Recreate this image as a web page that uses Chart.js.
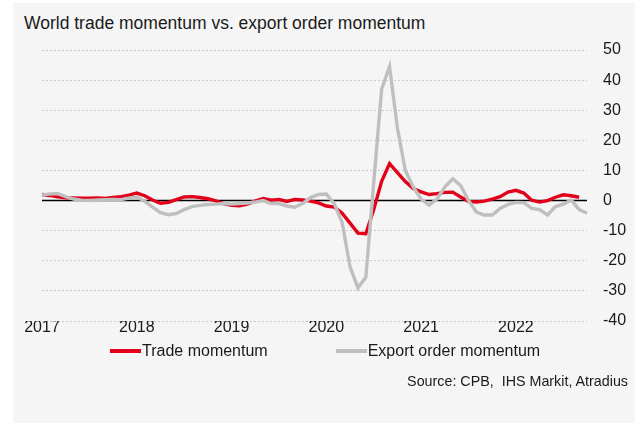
<!DOCTYPE html>
<html>
<head>
<meta charset="utf-8">
<script src="https://cdn.jsdelivr.net/npm/chart.js@4.4.1/dist/chart.umd.min.js"></script>
<style>
  body { margin: 0; background: #ffffff; font-family: "Liberation Sans", Arial, sans-serif; }
  #wrap { position: relative; width: 635px; height: 423px; overflow: hidden; }
  #bg { position: absolute; left: 13px; top: 3px; right: 0; bottom: 0; background: #f5f5f5; }
  #chart { position: absolute; left: 0; top: 0; }
  #title { position: absolute; left: 24px; top: 14.5px; font-size: 17.5px; line-height: 1; color: #1a1a1a; white-space: nowrap; }
  #legend { position: absolute; left: 110px; top: 343px; display: flex; align-items: center; font-size: 16px; line-height: 1; color: #1a1a1a; }
  #legend .item { display: flex; align-items: center; margin-right: 68px; }
  #legend .swatch { width: 31px; height: 4px; margin-right: 1px; }
  #source { position: absolute; right: 7px; top: 374px; font-size: 14.3px; line-height: 1; color: #1a1a1a; white-space: nowrap; }
</style>
</head>
<body>
<div id="wrap">
  <div id="bg"></div>
  <div id="title">World trade momentum vs. export order momentum</div>
  <canvas id="chart" width="635" height="423"></canvas>
  <div id="legend"></div>
  <div id="source">Source: CPB,&nbsp; IHS Markit, Atradius</div>
</div>
<script>
// monthly data, Jan 2017 - Oct 2022
const years = ['2017', '2018', '2019', '2020', '2021', '2022'];
const months = years
  .flatMap(y => Array.from({ length: 12 }, (_, m) => y + '-' + String(m + 1).padStart(2, '0')))
  .slice(0, 70);

const tradeMomentum = [
  2.0, 1.7, 1.2, 0.9, 0.9, 0.8, 0.8, 0.9, 0.7, 1.0, 1.3, 1.8,
  2.5, 1.6, 0.2, -0.9, -0.6, 0.3, 1.2, 1.3, 1.0, 0.6, -0.1, -1.0,
  -1.6, -1.7, -1.2, -0.2, 0.7, 0.1, 0.4, -0.3, 0.4, 0.2, -0.2, -0.8,
  -1.8, -2.2, -4.2, -7.5, -10.8, -11.0, -3.0, 6.4, 12.3, 9.3, 6.3, 4.0,
  2.9, 2.0, 2.3, 2.7, 2.8, 1.2, -0.3, -0.5, -0.2, 0.5, 1.3, 2.8,
  3.4, 2.5, 0.1, -0.5, 0.0, 1.1, 1.9, 1.6, 1.1, null
];

const exportOrderMomentum = [
  1.8, 2.2, 2.3, 1.3, 0.5, 0.1, 0.0, 0.2, 0.3, 0.4, 0.3, 0.8,
  1.2, -0.2, -2.2, -4.0, -4.7, -4.3, -3.0, -2.0, -1.6, -1.3, -1.2, -1.0,
  -1.2, -1.0, -0.8, -0.5, 0.0, -1.0, -1.0, -1.8, -2.2, -1.0, 1.0, 2.0,
  2.2, -1.0, -7.3, -22.0, -29.0, -25.5, 6.0, 37.0, 44.5, 24.0, 10.0, 4.5,
  0.5, -1.5, 0.5, 4.5, 7.2, 5.0, 0.0, -3.8, -4.8, -4.8, -2.6, -1.3,
  -0.6, -0.7, -2.6, -3.0, -4.8, -2.0, -1.2, 0.2, -3.0, -4.2
];

const yMin = -40;
const yMax = 50;
const yStep = 10;

Chart.defaults.font.family = '"Liberation Sans", Arial, sans-serif';
Chart.defaults.color = '#1a1a1a';

// black line at zero, under the series
const zeroLine = {
  id: 'zeroLine',
  beforeDatasetsDraw(chart) {
    const { ctx, chartArea, scales } = chart;
    const y = scales.y.getPixelForValue(0);
    ctx.save();
    ctx.strokeStyle = '#000000';
    ctx.lineWidth = 1.5;
    ctx.beginPath();
    ctx.moveTo(chartArea.left, y);
    ctx.lineTo(chartArea.right, y);
    ctx.stroke();
    ctx.restore();
  }
};

const chart = new Chart(document.getElementById('chart').getContext('2d'), {
  type: 'line',
  data: {
    labels: months,
    datasets: [
      {
        label: 'Trade momentum',
        data: tradeMomentum,
        borderColor: '#e2001a',
        backgroundColor: '#e2001a',
        borderWidth: 3.4,
        pointRadius: 0,
        tension: 0,
        order: 1,
      },
      {
        label: 'Export order momentum',
        data: exportOrderMomentum,
        borderColor: '#bfbfbf',
        backgroundColor: '#bfbfbf',
        borderWidth: 3.4,
        pointRadius: 0,
        tension: 0,
        order: 0,
      },
    ],
  },
  options: {
    animation: false,
    responsive: false,
    maintainAspectRatio: false,
    layout: { padding: { left: 42, top: 50, right: 0, bottom: 72 } },
    scales: {
      x: {
        grid: { display: false, drawTicks: false },
        border: { display: false },
        ticks: {
          autoSkip: false,
          maxRotation: 0,
          padding: -3,
          font: { size: 16 },
          callback: function (value) {
            const l = this.getLabelForValue(value);
            return l.endsWith('-01') ? l.slice(0, 4) : '';
          },
        },
        afterFit(scale) { scale.height = 30; },
      },
      y: {
        position: 'right',
        min: yMin,
        max: yMax,
        grid: { color: '#c8c8c8', lineWidth: 1, drawTicks: false },
        border: { display: false, dash: [2, 2] },
        ticks: { stepSize: yStep, padding: 16, font: { size: 16 } },
        afterFit(scale) { scale.width = 48; },
      },
    },
    plugins: {
      legend: { display: false },
      tooltip: { enabled: false },
    },
  },
  plugins: [zeroLine],
});

// legend built from the chart's datasets
const legendEl = document.getElementById('legend');
chart.data.datasets.forEach(ds => {
  const item = document.createElement('div');
  item.className = 'item';
  const sw = document.createElement('span');
  sw.className = 'swatch';
  sw.style.background = ds.borderColor;
  const txt = document.createElement('span');
  txt.textContent = ds.label;
  item.appendChild(sw);
  item.appendChild(txt);
  legendEl.appendChild(item);
});
</script>
</body>
</html>
